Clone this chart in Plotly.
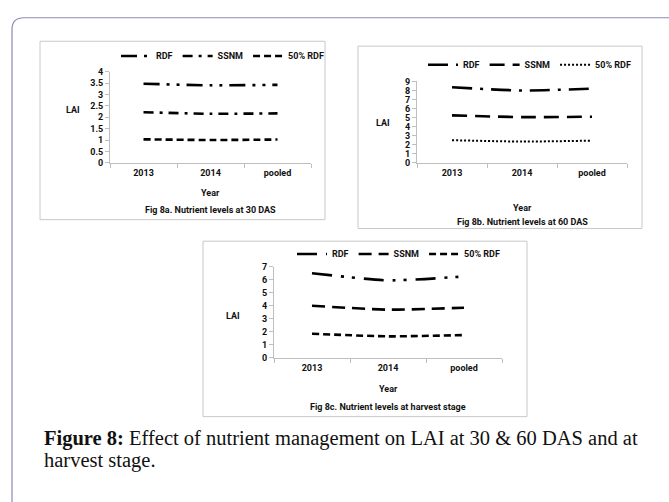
import plotly.graph_objects as go

W, H = 669, 502

years = ["2013", "2014", "pooled"]
series_names = ["RDF", "SSNM", "50% RDF"]

# Fig 8a – LAI at 30 DAS
a_rdf = [3.47, 3.40, 3.42]
a_ssnm = [2.22, 2.15, 2.17]
a_half = [1.03, 1.00, 1.02]
# Fig 8b – LAI at 60 DAS
b_rdf = [8.35, 8.00, 8.20]
b_ssnm = [5.25, 5.05, 5.10]
b_half = [2.50, 2.35, 2.45]
# Fig 8c – LAI at harvest
c_rdf = [6.50, 5.95, 6.25]
c_ssnm = [4.00, 3.70, 3.85]
c_half = [1.85, 1.65, 1.75]

panel_titles = ["Fig 8a. Nutrient levels at 30 DAS",
                "Fig 8b. Nutrient levels at 60 DAS",
                "Fig 8c. Nutrient levels at harvest stage"]
y_ranges = [[0, 4], [0, 9], [0, 7]]
y_dtick = [0.5, 1, 1]


def px(x):
    return x / W


def py(y):
    return 1 - y / H


panels = [
    dict(box=(40, 37, 325, 219), plot=(110, 311, 68, 161), leg=(116, 52),
         lai=(73, 107), year=192, cap=209,
         data=[a_rdf, a_ssnm, a_half],
         dashes=["16px,7px,3px,7px,3px,7px", "10px,6px,3px,6px", "7px,4px"],
         widths=[2.6, 2.6, 2.6]),
    dict(box=(358, 42, 642, 228), plot=(417, 627, 78, 161), leg=(423, 61),
         lai=(383, 120), year=207, cap=221,
         data=[b_rdf, b_ssnm, b_half],
         dashes=["20px,8px,3px,8px", "15px,8px", "2px,2px"],
         widths=[2.6, 2.6, 2.0]),
    dict(box=(203, 241, 527, 420), plot=(274, 502, 267, 360), leg=(292, 254),
         lai=(233, 317), year=392, cap=410,
         data=[c_rdf, c_ssnm, c_half],
         dashes=["20px,9px,3px,8px,3px,9px", "13px,7px", "7px,4px"],
         widths=[2.6, 2.6, 2.6]),
]

fig = go.Figure()
shapes = []
annotations = []
font_fam = "Roboto"
txt = "#111"
grey = "#bfbfbf"
bfont = dict(family=font_fam, size=9, color=txt, weight="bold")

for i, p in enumerate(panels):
    k = "" if i == 0 else str(i + 1)
    xa, ya = "x" + k, "y" + k
    leg = "legend" + k
    for j, vals in enumerate(p["data"]):
        fig.add_trace(go.Scatter(
            x=years, y=vals, name=series_names[j], mode="lines",
            line=dict(color="black", width=p["widths"][j], dash=p["dashes"][j],
                      shape="spline", smoothing=0.6),
            xaxis=xa, yaxis=ya, legend=leg, hoverinfo="skip"))
    x0, x1, yt, yb = p["plot"]
    fig.update_layout({
        "xaxis" + k: dict(domain=[px(x0), px(x1)], anchor=ya, range=[-0.5, 2.5],
                          showline=True, linecolor=grey, linewidth=1,
                          ticks="outside", tickson="boundaries", ticklen=4, tickcolor=grey,
                          showgrid=False, zeroline=False, fixedrange=True,
                          tickfont=bfont, ticklabelstandoff=1),
        "yaxis" + k: dict(domain=[py(yb), py(yt)], anchor=xa, range=y_ranges[i],
                          dtick=y_dtick[i], showline=True, linecolor=grey, linewidth=1,
                          ticks="outside", ticklen=4, tickcolor=grey,
                          showgrid=False, zeroline=False, fixedrange=True,
                          tickfont=bfont),
        leg: dict(orientation="h", x=px(p["leg"][0]), y=py(p["leg"][1]),
                  xanchor="left", yanchor="middle", bgcolor="rgba(0,0,0,0)",
                  font=bfont, itemwidth=30, tracegroupgap=0),
    })
    bx0, by0, bx1, by1 = p["box"]
    shapes.append(dict(type="rect", xref="paper", yref="paper",
                       x0=px(bx0), x1=px(bx1), y0=py(by1), y1=py(by0),
                       line=dict(color="#c8c8c8", width=1)))
    for text, xx, yy in [("LAI", p["lai"][0], p["lai"][1]),
                         ("Year", (x0 + x1) / 2, p["year"]),
                         (panel_titles[i], (x0 + x1) / 2, p["cap"])]:
        annotations.append(dict(text="<b>" + text + "</b>", x=px(xx), y=py(yy),
                                xref="paper", yref="paper", showarrow=False,
                                xanchor="center", yanchor="middle",
                                font=dict(family=font_fam, size=9, color=txt)))

# outer rounded frame
r = 12
fl, ft = 12, 13
path = (f"M {px(fl)},{py(H + 5)} L {px(fl)},{py(ft + r)} "
        f"Q {px(fl)},{py(ft)} {px(fl + r)},{py(ft)} L {px(W + 5)},{py(ft)}")
shapes.append(dict(type="path", xref="paper", yref="paper", path=path,
                   line=dict(color="#8c8ab4", width=1.2)))

cap_font = dict(family="Liberation Serif", size=20.5, color="#111")
annotations.append(dict(
    text="<b>Figure 8:</b> Effect of nutrient management on LAI at 30 &amp; 60 DAS and at",
    x=px(42), y=py(442), xref="paper", yref="paper", xanchor="left", yanchor="middle",
    showarrow=False, font=cap_font))
annotations.append(dict(
    text="harvest stage.", x=px(42), y=py(465), xref="paper", yref="paper",
    xanchor="left", yanchor="middle", showarrow=False, font=cap_font))

fig.update_layout(width=W, height=H, margin=dict(l=0, r=0, t=0, b=0),
                  paper_bgcolor="white", plot_bgcolor="white",
                  shapes=shapes, annotations=annotations, showlegend=True)

fig.write_html("out.html", config={"displayModeBar": False})
